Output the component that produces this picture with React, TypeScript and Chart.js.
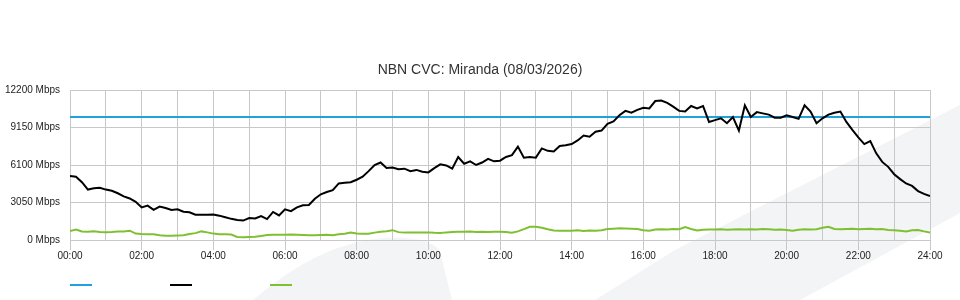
import React, { useEffect, useRef } from 'react';
import { Chart, registerables } from 'chart.js';

Chart.register(...registerables);

const TITLE = 'NBN CVC: Miranda (08/03/2026)';
const xTickLabels = ['00:00', '02:00', '04:00', '06:00', '08:00', '10:00', '12:00', '14:00', '16:00', '18:00', '20:00', '22:00', '24:00'];
const yUnit = ' Mbps';
const yMax = 12200;
const yStep = 3050;

// one sample every 10 minutes from 00:00 to 24:00
const samplesPerHour = 6;
const capacityHours = [0, 24];
const capacity = [10000, 10000];

const traffic = [
  5200, 5150, 4700, 4100, 4200, 4250, 4100, 4000, 3800, 3550, 3380, 3100,
  2650, 2800, 2450, 2720, 2600, 2450, 2500, 2300, 2250, 2050, 2050, 2050,
  2080, 1980, 1850, 1720, 1620, 1580, 1780, 1750, 1950, 1700, 2280, 2000,
  2500, 2350, 2650, 2830, 2850, 3350, 3720, 3900, 4050, 4600, 4650, 4700,
  4900, 5150, 5600, 6100, 6300, 5850, 5900, 5750, 5800, 5600, 5700, 5550,
  5500, 5850, 6150, 6060, 5800, 6750, 6200, 6400, 6100, 6300, 6600, 6400,
  6450, 6750, 6900, 7600, 6700, 6750, 6700, 7450, 7250, 7200, 7650, 7700,
  7800, 8100, 8500, 8400, 8800, 8900, 9450, 9650, 10150, 10500, 10350, 10580,
  10750, 10700, 11300, 11350, 11150, 10850, 10500, 10450, 10900, 10700, 10900, 9600,
  9750, 9900, 9500, 10000, 8900, 10950, 10000, 10400, 10300, 10200, 9950, 9950,
  10150, 10000, 9850, 10950, 10450, 9500, 9900, 10200, 10350, 10450, 9600, 8950,
  8350, 7800, 8050, 7050, 6350, 5950, 5350, 4950, 4600, 4400, 3980, 3750,
  3580,
];

const upstream = [
  730, 860, 700, 680, 720, 660, 640, 660, 700, 700, 760, 520,
  480, 470, 470, 380, 350, 350, 360, 380, 480, 560, 700, 620,
  520, 460, 460, 440, 250, 230, 250, 270, 330, 400, 430, 430,
  420, 440, 420, 400, 390, 380, 400, 420, 380, 470, 500, 600,
  520, 500, 500, 600, 680, 720, 800, 640, 600, 620, 600, 600,
  620, 580, 560, 620, 650, 680, 680, 700, 660, 680, 650, 680,
  670, 650, 600, 700, 880, 1080, 1080, 1000, 880, 780, 760, 760,
  760, 800, 740, 780, 760, 800, 900, 920, 950, 930, 920, 900,
  800, 760, 860, 880, 860, 900, 880, 1050, 900, 780, 840, 860,
  850, 880, 840, 860, 880, 850, 880, 860, 900, 880, 840, 860,
  820, 760, 840, 880, 860, 880, 1000, 1080, 900, 880, 900, 920,
  880, 900, 920, 880, 900, 820, 800, 760, 700, 800, 820, 700,
  600,
];

const BLUE = '#1ea1dc';
const BLACK = '#000000';
const GREEN = '#7fc032';
const GRID = '#c8c8c8';
const FONT = "'Liberation Sans', Arial, sans-serif";

const watermark = {
  id: 'watermark',
  beforeDraw(chart: any) {
    const ctx = chart.ctx;
    ctx.save();
    ctx.fillStyle = '#f3f4f6';
    ctx.beginPath();
    ctx.moveTo(595, 300);
    ctx.lineTo(675, 250);
    ctx.lineTo(960, 105);
    ctx.lineTo(960, 213);
    ctx.lineTo(800, 300);
    ctx.closePath();
    ctx.fill();
    ctx.beginPath();
    ctx.moveTo(253, 300);
    ctx.quadraticCurveTo(320, 242, 385, 238);
    ctx.quadraticCurveTo(432, 236, 440, 252);
    ctx.lineTo(452, 300);
    ctx.closePath();
    ctx.fill();
    ctx.restore();
  },
};

const lineLegend = {
  id: 'lineLegend',
  afterDraw(chart: any) {
    const ctx = chart.ctx;
    const left = chart.chartArea.left;
    const ds = [...chart.data.datasets].sort((a: any, b: any) => a.legendIndex - b.legendIndex);
    ctx.save();
    ctx.lineWidth = 2;
    ds.forEach((d: any, i: number) => {
      ctx.strokeStyle = d.borderColor;
      ctx.beginPath();
      ctx.moveTo(left + i * 100, 285);
      ctx.lineTo(left + i * 100 + 22, 285);
      ctx.stroke();
    });
    ctx.restore();
  },
};

export default function App() {
  const ref = useRef<HTMLCanvasElement>(null);
  useEffect(() => {
    if (!ref.current) return;
    const series = (arr: number[]) => arr.map((v, i) => ({ x: i / samplesPerHour, y: v }));
    const chart = new Chart(ref.current, {
      type: 'line',
      data: {
        datasets: [
          {
            label: 'Capacity',
            legendIndex: 0,
            data: capacity.map((v, i) => ({ x: capacityHours[i], y: v })),
            borderColor: BLUE,
            borderWidth: 2,
            pointRadius: 0,
            order: 1,
          } as any,
          {
            label: 'Download',
            legendIndex: 1,
            data: series(traffic),
            borderColor: BLACK,
            borderWidth: 2,
            pointRadius: 0,
            order: 0,
          } as any,
          {
            label: 'Upload',
            legendIndex: 2,
            data: series(upstream),
            borderColor: GREEN,
            borderWidth: 2,
            pointRadius: 0,
            order: 2,
          } as any,
        ],
      },
      options: {
        animation: false,
        responsive: false,
        layout: { padding: { left: 0, right: 0, top: 0, bottom: 30 } },
        plugins: {
          legend: { display: false },
          tooltip: { enabled: false },
          title: {
            display: true,
            text: TITLE,
            color: '#333333',
            font: { family: FONT, size: 14, weight: 'normal' },
            padding: { top: 61.6, bottom: 11.6 },
          },
        },
        scales: {
          x: {
            type: 'linear',
            min: 0,
            max: 24,
            afterFit: (s: any) => { s.height = 30; },
            grid: {
              color: GRID,
              lineWidth: 1,
              tickLength: 10,
              tickColor: (c: any) => (c.tick && c.tick.value % 2 === 0 ? GRID : 'rgba(0,0,0,0)'),
            },
            border: { color: GRID },
            ticks: {
              stepSize: 1,
              autoSkip: false,
              maxRotation: 0,
              padding: 0,
              color: '#222222',
              font: { family: FONT, size: 10 },
              callback: (v: any) => (Number(v) % 2 === 0 ? xTickLabels[Number(v) / 2] : ''),
            },
          },
          y: {
            min: 0,
            max: yMax,
            afterFit: (s: any) => { s.width = 70; },
            grid: { color: GRID, lineWidth: 1, drawTicks: false },
            border: { color: GRID },
            ticks: {
              stepSize: yStep,
              padding: 10,
              color: '#222222',
              font: { family: FONT, size: 10 },
              callback: (v: any) => `${v}${yUnit}`,
            },
          },
          yRight: {
            position: 'right',
            min: 0,
            max: yMax,
            afterFit: (s: any) => { s.width = 30; },
            grid: { display: false, drawOnChartArea: false },
            border: { display: false },
            ticks: { display: false },
          },
        },
      },
      plugins: [watermark, lineLegend],
    });
    return () => chart.destroy();
  }, []);
  return (
    <div style={{ position: 'absolute', left: 0, top: 0, width: 960, height: 300 }}>
      <canvas ref={ref} width={960} height={300} />
    </div>
  );
}
